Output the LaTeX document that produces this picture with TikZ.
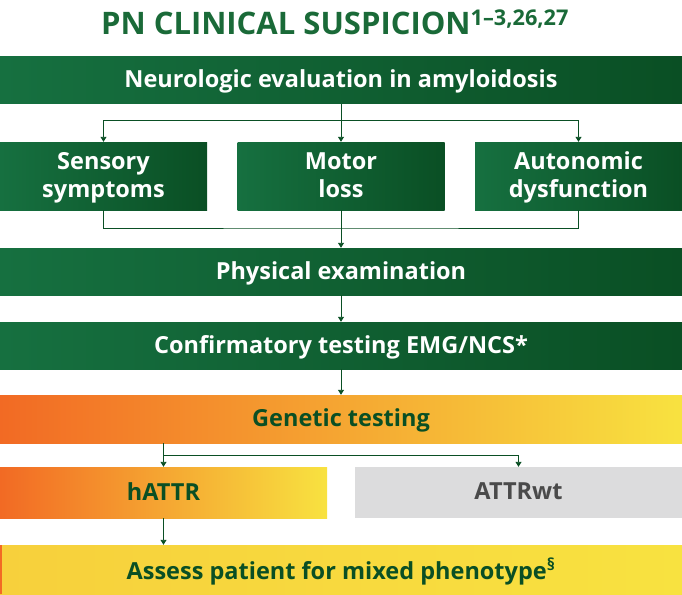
\documentclass[tikz,border=0pt]{standalone}
\usepackage{fontspec}
\setmainfont{Open Sans}
\usetikzlibrary{positioning,arrows.meta}
\definecolor{gdark}{HTML}{0A4F24}
\definecolor{glight}{HTML}{167040}
\definecolor{otitle}{HTML}{1A6A38}
\definecolor{orng}{HTML}{F26A24}
\definecolor{yell}{HTML}{F8E240}
\definecolor{gry}{HTML}{DCDCDD}
\definecolor{gtxt}{HTML}{4A4A4A}
\tikzset{
  bar/.style={minimum height=47pt, inner sep=0pt, font=\fontsize{23.5}{28}\selectfont\bfseries, text=white,
    left color=glight, right color=gdark, align=center, text depth=2pt},
  gbox/.style={bar, minimum width=207pt, minimum height=68pt},
  warm/.style={minimum height=48pt, inner sep=0pt, font=\fontsize{23.5}{28}\selectfont\bfseries, text=gdark,
    left color=orng, right color=yell, text depth=2pt},
  link/.style={draw=gdark, line width=0.9pt},
  arr/.style={link, -{Triangle[length=5pt,width=6pt]}}
}
\begin{document}
\begin{tikzpicture}[x=1pt,y=-1pt]
  \useasboundingbox (0,0) rectangle (682,594);
  \node[text=otitle, font=\fontsize{31}{32}\selectfont\bfseries] (title) at (335,22)
    {PN CLINICAL SUSPICION\textsuperscript{1--3,26,27}};
  \node[bar, minimum width=682pt] (neuro) at (341,80) {Neurologic evaluation in amyloidosis};
  \node[gbox] (sens) at (103.5,176) {Sensory\\symptoms};
  \node[gbox] (motor) at (341,176) {Motor\\loss};
  \node[gbox] (auto) at (578.5,176) {Autonomic\\dysfunction};
  \node[bar, minimum width=682pt] (phys) at (341,271.5) {Physical examination};
  \node[bar, minimum width=682pt] (conf) at (341,345.5) {Confirmatory testing EMG/NCS*};
  \node[warm, minimum width=682pt] (gen) at (341,419) {Genetic testing};
  \node[warm, minimum width=327pt, minimum height=51pt] (hattr) at (163.5,492.5) {hATTR};
  \node[minimum width=327pt, minimum height=51pt, inner sep=0pt, fill=gry, text=gtxt, text depth=2pt,
    font=\fontsize{23.5}{28}\selectfont\bfseries] (wt) at (518.5,492.5) {ATTRwt};
  \node[warm, minimum width=682pt, minimum height=49pt, left color=yell!85!orng, right color=yell]
    (assess) at (341,569.5) {Assess patient for mixed phenotype\textsuperscript{\S}};
  \fill[orng] (0,545) rectangle (2,594);
  % connectors
  \coordinate (fork1) at (341,120);
  \draw[link] (neuro.south) -- (fork1);
  \draw[arr] (fork1) -| (sens.north);
  \draw[arr] (fork1) -- (motor.north);
  \draw[arr] (fork1) -| (auto.north);
  \coordinate (join1) at (341,228);
  \draw[link] (sens.south) |- (join1) -| (auto.south);
  \draw[link] (motor.south) -- (join1);
  \draw[arr] (join1) -- (phys.north);
  \draw[arr] (phys.south) -- (conf.north);
  \draw[arr] (conf.south) -- (gen.north);
  \coordinate (fork2) at (163.5,455);
  \draw[link] (gen.south -| hattr) -- (fork2);
  \draw[arr] (fork2) -- (hattr.north);
  \draw[arr] (fork2) -| (wt.north);
  \draw[arr] (hattr.south) -- (hattr.south |- assess.north);
\end{tikzpicture}
\end{document}
